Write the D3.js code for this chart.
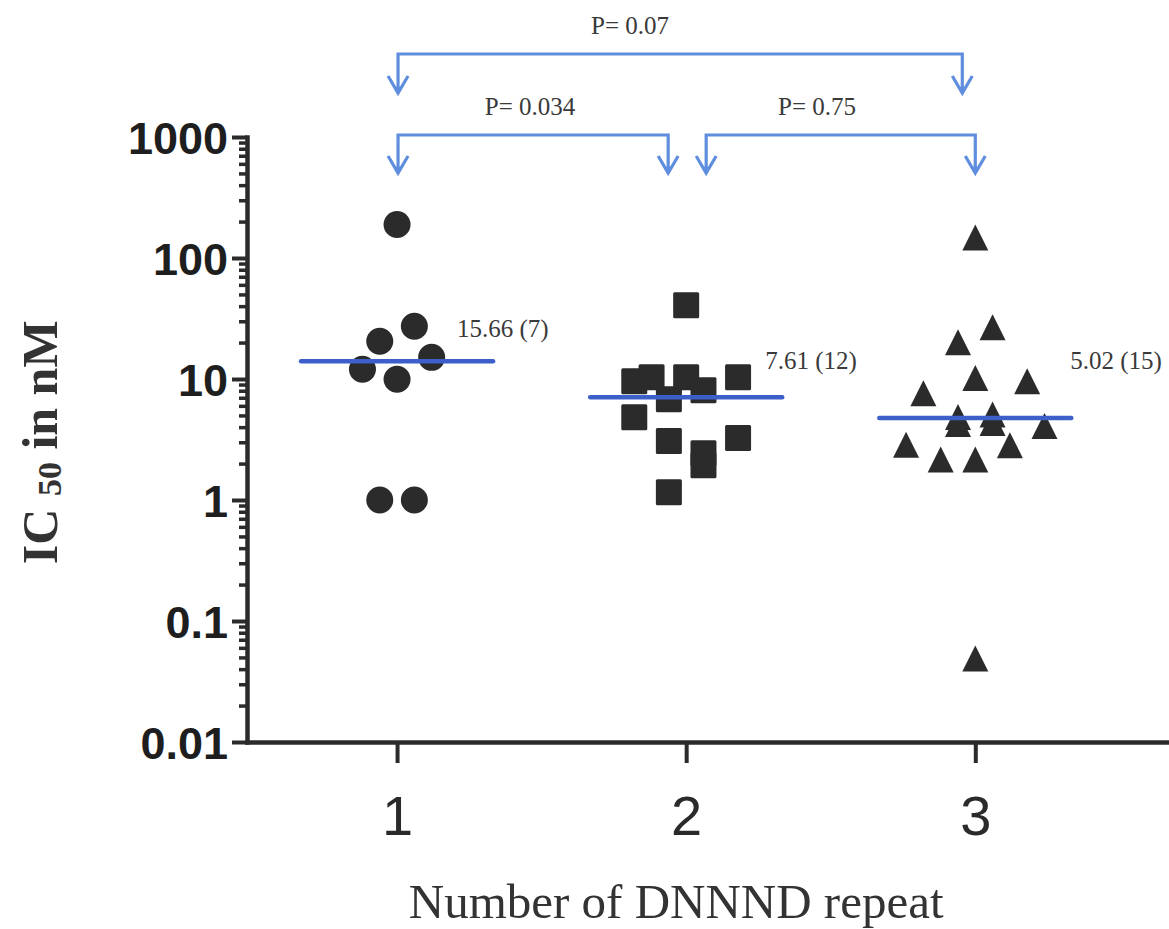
<!DOCTYPE html>
<html>
<head>
<meta charset="utf-8">
<script src="https://cdn.jsdelivr.net/npm/d3@7"></script>
<style>
body { margin: 0; background: #fff; }
</style>
</head>
<body>
<div class="chart"></div>
<script>
// values
const groups = [1, 2, 3];
const yTicks = [0.01, 0.1, 1, 10, 100, 1000];
const yTickLabels = ["0.01", "0.1", "1", "10", "100", "1000"];

// IC50 values per group, with the jitter column each point sits in
const oneRepeat = [189, 27.3, 20.5, 15.1, 12.05, 9.96, 1.0, 1.0];
const oneCols   = [0, 1, -1, 2, -2, 0, -1, 1];
const twoRepeat = [40.6, 9.59, 10.35, 6.81, 10.35, 8.08, 10.35, 4.84, 3.07, 3.25, 2.44, 1.94, 1.16];
const twoCols   = [0, -3, -2, -1, 0, 1, 3, -3, -1, 3, 1, 1, -1];
const threeRepeat = [148, 26.8, 20.1, 10.2, 9.6, 7.64, 4.85, 4.24, 5.1, 4.32, 4.08, 2.86, 2.16, 2.16, 2.84, 0.049];
const threeCols   = [0, 1, -1, 0, 3, -3, -1, -1, 1, 1, 4, -4, -2, 0, 2, 0];

const medians = [14.0, 7.08, 4.75];
const meanLabels = ["15.66 (7)", "7.61 (12)", "5.02 (15)"];

const pFrom = [1, 1, 2];
const pTo = [3, 2, 3];
const pLabels = ["P= 0.07", "P= 0.034", "P= 0.75"];

// layout
var margin = {top: 137, right: 0, bottom: 187, left: 247},
width = 1169 - margin.left - margin.right,
height = 929 - margin.top - margin.bottom;

const svg = d3.select('.chart')
    .append('svg')
    .attr('width', width + margin.left + margin.right)
    .attr('height', height + margin.top + margin.bottom)
    .style('display', 'block')
    .append('g')
    .attr('transform', 'translate(' + margin.left + ',' + margin.top + ')')

const xScale = d3.scaleLinear()
    .domain([0.481, 3.67])
    .range([0, width])

const yScale = d3.scaleLog()
    .domain([0.01, 1000])
    .range([height, 0])

const jitter = d3.scaleLinear().domain([-1, 1]).range([-17.3, 17.3])

const ink = '#2b2b2b'
const blue = '#3d5fc9'
const arrowBlue = '#5f8ede'

// y axis: minor ticks first, then major
const minor = []
yTicks.slice(0, -1).forEach(t => { for (let k = 2; k <= 9; k++) minor.push(t * k) })

svg.append('g')
    .call(d3.axisLeft(yScale).tickValues(minor).tickSize(8).tickFormat(''))
    .call(g => g.select('.domain').remove())
    .call(g => g.selectAll('.tick line').attr('stroke', ink).attr('stroke-width', 3.5))

svg.append('g')
    .call(d3.axisLeft(yScale).tickValues(yTicks).tickSize(15).tickSizeOuter(0)
        .tickFormat((d, i) => yTickLabels[i]))
    .call(g => g.select('.domain').attr('stroke', ink).attr('stroke-width', 4.5).attr('stroke-linecap', 'square'))
    .call(g => g.selectAll('.tick line').attr('stroke', ink).attr('stroke-width', 4))
    .call(g => g.selectAll('.tick text')
        .attr('x', -19)
        .attr('dy', '0.36em')
        .attr('fill', '#1e1e1e')
        .attr('font-family', 'Liberation Sans, Arial, sans-serif')
        .attr('font-weight', 'bold')
        .attr('font-size', 45))

// x axis
svg.append('g')
    .attr('transform', `translate(0,${height})`)
    .call(d3.axisBottom(xScale).tickValues(groups).tickSize(21).tickSizeOuter(0).tickFormat(d3.format('d')))
    .call(g => g.select('.domain').attr('stroke', ink).attr('stroke-width', 4.5).attr('stroke-linecap', 'square'))
    .call(g => g.selectAll('.tick line').attr('stroke', ink).attr('stroke-width', 4))
    .call(g => g.selectAll('.tick text')
        .attr('y', 93)
        .attr('dy', 0)
        .attr('fill', '#2a2a2a')
        .attr('font-family', 'Liberation Sans, Arial, sans-serif')
        .attr('font-size', 56))

// axis titles
svg.append('text')
    .attr('x', xScale(2) - 10)
    .attr('y', height + 176)
    .attr('text-anchor', 'middle')
    .attr('fill', '#333')
    .attr('font-family', 'Liberation Serif, Times New Roman, serif')
    .attr('font-size', 49)
    .text('Number of DNNND repeat')

const yTitle = svg.append('text')
    .attr('transform', `translate(${-margin.left + 57},${yScale(3) })rotate(-90)`)
    .attr('text-anchor', 'middle')
    .attr('fill', '#333')
    .attr('font-family', 'Liberation Serif, Times New Roman, serif')
    .attr('font-weight', 'bold')
    .attr('font-size', 50)
yTitle.append('tspan').text('IC ')
yTitle.append('tspan').attr('font-size', 34).attr('dy', 4).text('50')
yTitle.append('tspan').attr('dy', -4).text(' in nM')

// points
const triangle = 'M0,-13L13,13L-13,13Z'
const pointSets = [
    {vals: oneRepeat, cols: oneCols, g: 1},
    {vals: twoRepeat, cols: twoCols, g: 2},
    {vals: threeRepeat, cols: threeCols, g: 3}
]
const points = pointSets.flatMap(s => s.vals.map((v, i) => ({g: s.g, v: v, c: s.cols[i]})))

const px = d => xScale(d.g) + jitter(d.c)

svg.append('g')
    .selectAll('circle')
    .data(points.filter(d => d.g === 1))
    .enter()
    .append('circle')
    .attr('cx', px)
    .attr('cy', d => yScale(d.v))
    .attr('r', 13.5)
    .attr('fill', ink)

svg.append('g')
    .selectAll('rect')
    .data(points.filter(d => d.g === 2))
    .enter()
    .append('rect')
    .attr('x', d => px(d) - 13)
    .attr('y', d => yScale(d.v) - 13)
    .attr('width', 26)
    .attr('height', 26)
    .attr('rx', 1.5)
    .attr('fill', ink)

svg.append('g')
    .selectAll('path')
    .data(points.filter(d => d.g === 3))
    .enter()
    .append('path')
    .attr('d', triangle)
    .attr('transform', d => `translate(${px(d)},${yScale(d.v)})`)
    .attr('fill', ink)

// median lines and labels
const labelDx = [60, 79, 95]
const labelDy = [-24, -28, -49]

svg.append('g')
    .selectAll('line')
    .data(groups)
    .enter()
    .append('line')
    .attr('x1', d => xScale(d) - 96)
    .attr('x2', d => xScale(d) + 96)
    .attr('y1', (d, i) => yScale(medians[i]))
    .attr('y2', (d, i) => yScale(medians[i]))
    .attr('stroke', blue)
    .attr('stroke-width', 4.5)
    .attr('stroke-linecap', 'round')

svg.append('g')
    .selectAll('text')
    .data(groups)
    .enter()
    .append('text')
    .attr('x', (d, i) => xScale(d) + labelDx[i])
    .attr('y', (d, i) => yScale(medians[i]) + labelDy[i])
    .attr('fill', '#3a3a3a')
    .attr('font-family', 'Liberation Serif, Times New Roman, serif')
    .attr('font-size', 25)
    .text((d, i) => meanLabels[i])

// comparison brackets with open arrowheads
const bracketY = [54 - margin.top, 135 - margin.top, 135 - margin.top]
const tipDrop = [39, 38, 38]
const endNudge = [[1, -13], [1, -18], [20, 0]]
const textX = [630, 530, 817]

const brackets = svg.append('g')
pFrom.forEach((f, i) => {
    const x1 = xScale(f) + endNudge[i][0]
    const x2 = xScale(pTo[i]) + endNudge[i][1]
    const y = bracketY[i]
    const tip = y + tipDrop[i]
    const p = d3.path()
    p.moveTo(x1, tip); p.lineTo(x1, y); p.lineTo(x2, y); p.lineTo(x2, tip)
    p.moveTo(x1 - 10, tip - 17); p.lineTo(x1, tip); p.lineTo(x1 + 10, tip - 17)
    p.moveTo(x2 - 10, tip - 17); p.lineTo(x2, tip); p.lineTo(x2 + 10, tip - 17)
    brackets.append('path')
        .attr('d', p.toString())
        .attr('fill', 'none')
        .attr('stroke', arrowBlue)
        .attr('stroke-width', 3.2)
        .attr('stroke-linejoin', 'miter')
    brackets.append('text')
        .attr('x', textX[i] - margin.left)
        .attr('y', y - 20)
        .attr('text-anchor', 'middle')
        .attr('fill', '#3a3a3a')
        .attr('font-family', 'Liberation Serif, Times New Roman, serif')
        .attr('font-size', 25)
        .text(pLabels[i])
})
</script>
</body>
</html>
